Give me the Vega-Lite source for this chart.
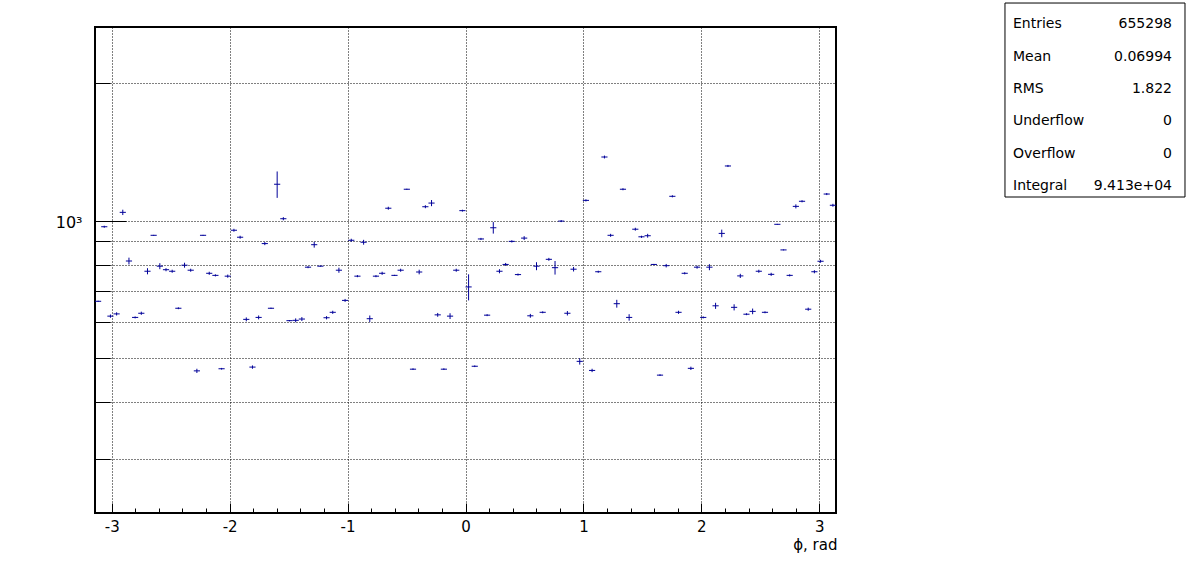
{
  "$schema": "https://vega.github.io/schema/vega-lite/v6.json",
  "width": 741,
  "height": 486,
  "autosize": {"type": "none"},
  "padding": {"left": 95, "top": 27, "right": 360, "bottom": 59},
  "background": "white",
  "config": {
    "view": {"stroke": "black", "strokeWidth": 2},
    "font": "DejaVu Sans",
    "axis": {
      "domain": false,
      "labelFont": "DejaVu Sans",
      "titleFont": "DejaVu Sans",
      "labelColor": "black",
      "titleColor": "black",
      "tickColor": "black",
      "tickWidth": 1,
      "gridColor": "black",
      "gridOpacity": 1,
      "gridWidth": 1,
      "gridDash": [1, 2]
    }
  },
  "data": {
    "values": [
      {"lo": -3.1416, "hi": -3.0892, "phi": -3.1154, "n": 665, "err": 2},
      {"lo": -3.0892, "hi": -3.0369, "phi": -3.0631, "n": 969, "err": 5},
      {"lo": -3.0369, "hi": -2.9845, "phi": -3.0107, "n": 617, "err": 5},
      {"lo": -2.9845, "hi": -2.9322, "phi": -2.9583, "n": 624, "err": 5},
      {"lo": -2.9322, "hi": -2.8798, "phi": -2.906, "n": 1042, "err": 14},
      {"lo": -2.8798, "hi": -2.8274, "phi": -2.8536, "n": 815, "err": 14},
      {"lo": -2.8274, "hi": -2.7751, "phi": -2.8013, "n": 613, "err": 3},
      {"lo": -2.7751, "hi": -2.7227, "phi": -2.7489, "n": 626, "err": 5},
      {"lo": -2.7227, "hi": -2.6704, "phi": -2.6965, "n": 774, "err": 12},
      {"lo": -2.6704, "hi": -2.618, "phi": -2.6442, "n": 928, "err": 2},
      {"lo": -2.618, "hi": -2.5656, "phi": -2.5918, "n": 794, "err": 12},
      {"lo": -2.5656, "hi": -2.5133, "phi": -2.5395, "n": 780, "err": 6},
      {"lo": -2.5133, "hi": -2.4609, "phi": -2.4871, "n": 774, "err": 6},
      {"lo": -2.4609, "hi": -2.4086, "phi": -2.4347, "n": 642, "err": 3},
      {"lo": -2.4086, "hi": -2.3562, "phi": -2.3824, "n": 798, "err": 10},
      {"lo": -2.3562, "hi": -2.3038, "phi": -2.33, "n": 778, "err": 6},
      {"lo": -2.3038, "hi": -2.2515, "phi": -2.2777, "n": 468, "err": 5},
      {"lo": -2.2515, "hi": -2.1991, "phi": -2.2253, "n": 928, "err": 2},
      {"lo": -2.1991, "hi": -2.1468, "phi": -2.1729, "n": 766, "err": 6},
      {"lo": -2.1468, "hi": -2.0944, "phi": -2.1206, "n": 758, "err": 4},
      {"lo": -2.0944, "hi": -2.042, "phi": -2.0682, "n": 473, "err": 2},
      {"lo": -2.042, "hi": -1.9897, "phi": -2.0159, "n": 755, "err": 6},
      {"lo": -1.9897, "hi": -1.9373, "phi": -1.9635, "n": 952, "err": 7},
      {"lo": -1.9373, "hi": -1.885, "phi": -1.9111, "n": 919, "err": 7},
      {"lo": -1.885, "hi": -1.8326, "phi": -1.8588, "n": 607, "err": 6},
      {"lo": -1.8326, "hi": -1.7802, "phi": -1.8064, "n": 477, "err": 4},
      {"lo": -1.7802, "hi": -1.7279, "phi": -1.7541, "n": 613, "err": 6},
      {"lo": -1.7279, "hi": -1.6755, "phi": -1.7017, "n": 890, "err": 7},
      {"lo": -1.6755, "hi": -1.6232, "phi": -1.6493, "n": 642, "err": 2},
      {"lo": -1.6232, "hi": -1.5708, "phi": -1.597, "n": 1201, "err": 80},
      {"lo": -1.5708, "hi": -1.5184, "phi": -1.5446, "n": 1009, "err": 8},
      {"lo": -1.5184, "hi": -1.4661, "phi": -1.4923, "n": 603, "err": 2},
      {"lo": -1.4661, "hi": -1.4137, "phi": -1.4399, "n": 604, "err": 6},
      {"lo": -1.4137, "hi": -1.3614, "phi": -1.3875, "n": 608, "err": 6},
      {"lo": -1.3614, "hi": -1.309, "phi": -1.3352, "n": 790, "err": 4},
      {"lo": -1.309, "hi": -1.2566, "phi": -1.2828, "n": 885, "err": 13},
      {"lo": -1.2566, "hi": -1.2043, "phi": -1.2305, "n": 794, "err": 2},
      {"lo": -1.2043, "hi": -1.1519, "phi": -1.1781, "n": 612, "err": 5},
      {"lo": -1.1519, "hi": -1.0996, "phi": -1.1257, "n": 629, "err": 5},
      {"lo": -1.0996, "hi": -1.0472, "phi": -1.0734, "n": 778, "err": 10},
      {"lo": -1.0472, "hi": -0.9948, "phi": -1.021, "n": 668, "err": 5},
      {"lo": -0.9948, "hi": -0.9425, "phi": -0.9687, "n": 905, "err": 7},
      {"lo": -0.9425, "hi": -0.8901, "phi": -0.9163, "n": 755, "err": 4},
      {"lo": -0.8901, "hi": -0.8378, "phi": -0.8639, "n": 896, "err": 11},
      {"lo": -0.8378, "hi": -0.7854, "phi": -0.8116, "n": 609, "err": 10},
      {"lo": -0.7854, "hi": -0.733, "phi": -0.7592, "n": 755, "err": 4},
      {"lo": -0.733, "hi": -0.6807, "phi": -0.7069, "n": 766, "err": 6},
      {"lo": -0.6807, "hi": -0.6283, "phi": -0.6545, "n": 1064, "err": 8},
      {"lo": -0.6283, "hi": -0.576, "phi": -0.6021, "n": 758, "err": 2},
      {"lo": -0.576, "hi": -0.5236, "phi": -0.5498, "n": 778, "err": 6},
      {"lo": -0.5236, "hi": -0.4712, "phi": -0.4974, "n": 1171, "err": 3},
      {"lo": -0.4712, "hi": -0.4189, "phi": -0.4451, "n": 472, "err": 2},
      {"lo": -0.4189, "hi": -0.3665, "phi": -0.3927, "n": 771, "err": 9},
      {"lo": -0.3665, "hi": -0.3142, "phi": -0.3403, "n": 1072, "err": 8},
      {"lo": -0.3142, "hi": -0.2618, "phi": -0.288, "n": 1092, "err": 17},
      {"lo": -0.2618, "hi": -0.2094, "phi": -0.2356, "n": 621, "err": 6},
      {"lo": -0.2094, "hi": -0.1571, "phi": -0.1833, "n": 472, "err": 2},
      {"lo": -0.1571, "hi": -0.1047, "phi": -0.1309, "n": 617, "err": 9},
      {"lo": -0.1047, "hi": -0.0524, "phi": -0.0785, "n": 778, "err": 6},
      {"lo": -0.0524, "hi": 0, "phi": -0.0262, "n": 1051, "err": 5},
      {"lo": 0, "hi": 0.0524, "phi": 0.0262, "n": 715, "err": 47},
      {"lo": 0.0524, "hi": 0.1047, "phi": 0.0785, "n": 479, "err": 2},
      {"lo": 0.1047, "hi": 0.1571, "phi": 0.1309, "n": 911, "err": 5},
      {"lo": 0.1571, "hi": 0.2094, "phi": 0.1833, "n": 620, "err": 3},
      {"lo": 0.2094, "hi": 0.2618, "phi": 0.2356, "n": 964, "err": 28},
      {"lo": 0.2618, "hi": 0.3142, "phi": 0.288, "n": 774, "err": 8},
      {"lo": 0.3142, "hi": 0.3665, "phi": 0.3403, "n": 801, "err": 6},
      {"lo": 0.3665, "hi": 0.4189, "phi": 0.3927, "n": 900, "err": 5},
      {"lo": 0.4189, "hi": 0.4712, "phi": 0.4451, "n": 761, "err": 4},
      {"lo": 0.4712, "hi": 0.5236, "phi": 0.4974, "n": 915, "err": 9},
      {"lo": 0.5236, "hi": 0.576, "phi": 0.5498, "n": 618, "err": 6},
      {"lo": 0.576, "hi": 0.6283, "phi": 0.6021, "n": 794, "err": 16},
      {"lo": 0.6283, "hi": 0.6807, "phi": 0.6545, "n": 629, "err": 3},
      {"lo": 0.6807, "hi": 0.733, "phi": 0.7069, "n": 822, "err": 6},
      {"lo": 0.733, "hi": 0.7854, "phi": 0.7592, "n": 788, "err": 27},
      {"lo": 0.7854, "hi": 0.8378, "phi": 0.8116, "n": 997, "err": 5},
      {"lo": 0.8378, "hi": 0.8901, "phi": 0.8639, "n": 626, "err": 7},
      {"lo": 0.8901, "hi": 0.9425, "phi": 0.9163, "n": 782, "err": 9},
      {"lo": 0.9425, "hi": 0.9948, "phi": 0.9687, "n": 491, "err": 8},
      {"lo": 0.9948, "hi": 1.0472, "phi": 1.021, "n": 1107, "err": 6},
      {"lo": 1.0472, "hi": 1.0996, "phi": 1.0734, "n": 469, "err": 4},
      {"lo": 1.0996, "hi": 1.1519, "phi": 1.1257, "n": 772, "err": 4},
      {"lo": 1.1519, "hi": 1.2043, "phi": 1.1781, "n": 1378, "err": 10},
      {"lo": 1.2043, "hi": 1.2566, "phi": 1.2305, "n": 928, "err": 7},
      {"lo": 1.2566, "hi": 1.309, "phi": 1.2828, "n": 657, "err": 13},
      {"lo": 1.309, "hi": 1.3614, "phi": 1.3352, "n": 1171, "err": 6},
      {"lo": 1.3614, "hi": 1.4137, "phi": 1.3875, "n": 613, "err": 10},
      {"lo": 1.4137, "hi": 1.4661, "phi": 1.4399, "n": 957, "err": 7},
      {"lo": 1.4661, "hi": 1.5184, "phi": 1.4923, "n": 921, "err": 5},
      {"lo": 1.5184, "hi": 1.5708, "phi": 1.5446, "n": 926, "err": 9},
      {"lo": 1.5708, "hi": 1.6232, "phi": 1.597, "n": 801, "err": 2},
      {"lo": 1.6232, "hi": 1.6755, "phi": 1.6493, "n": 458, "err": 2},
      {"lo": 1.6755, "hi": 1.7279, "phi": 1.7017, "n": 796, "err": 7},
      {"lo": 1.7279, "hi": 1.7802, "phi": 1.7541, "n": 1130, "err": 6},
      {"lo": 1.7802, "hi": 1.8326, "phi": 1.8064, "n": 629, "err": 5},
      {"lo": 1.8326, "hi": 1.885, "phi": 1.8588, "n": 766, "err": 4},
      {"lo": 1.885, "hi": 1.9373, "phi": 1.9111, "n": 474, "err": 4},
      {"lo": 1.9373, "hi": 1.9897, "phi": 1.9635, "n": 790, "err": 6},
      {"lo": 1.9897, "hi": 2.042, "phi": 2.0159, "n": 613, "err": 3},
      {"lo": 2.042, "hi": 2.0944, "phi": 2.0682, "n": 790, "err": 12},
      {"lo": 2.0944, "hi": 2.1468, "phi": 2.1206, "n": 650, "err": 10},
      {"lo": 2.1468, "hi": 2.1991, "phi": 2.1729, "n": 937, "err": 18},
      {"lo": 2.1991, "hi": 2.2515, "phi": 2.2253, "n": 1317, "err": 7},
      {"lo": 2.2515, "hi": 2.3038, "phi": 2.2777, "n": 645, "err": 10},
      {"lo": 2.3038, "hi": 2.3562, "phi": 2.33, "n": 756, "err": 8},
      {"lo": 2.3562, "hi": 2.4086, "phi": 2.3824, "n": 623, "err": 3},
      {"lo": 2.4086, "hi": 2.4609, "phi": 2.4347, "n": 632, "err": 9},
      {"lo": 2.4609, "hi": 2.5133, "phi": 2.4871, "n": 774, "err": 6},
      {"lo": 2.5133, "hi": 2.5656, "phi": 2.5395, "n": 629, "err": 3},
      {"lo": 2.5656, "hi": 2.618, "phi": 2.5918, "n": 762, "err": 6},
      {"lo": 2.618, "hi": 2.6704, "phi": 2.6442, "n": 981, "err": 2},
      {"lo": 2.6704, "hi": 2.7227, "phi": 2.6965, "n": 862, "err": 2},
      {"lo": 2.7227, "hi": 2.7751, "phi": 2.7489, "n": 758, "err": 4},
      {"lo": 2.7751, "hi": 2.8274, "phi": 2.8013, "n": 1074, "err": 11},
      {"lo": 2.8274, "hi": 2.8798, "phi": 2.8536, "n": 1102, "err": 6},
      {"lo": 2.8798, "hi": 2.9322, "phi": 2.906, "n": 639, "err": 5},
      {"lo": 2.9322, "hi": 2.9845, "phi": 2.9583, "n": 772, "err": 6},
      {"lo": 2.9845, "hi": 3.0369, "phi": 3.0107, "n": 814, "err": 6},
      {"lo": 3.0369, "hi": 3.0892, "phi": 3.0631, "n": 1143, "err": 6},
      {"lo": 3.0892, "hi": 3.1416, "phi": 3.1154, "n": 1080, "err": 8}
    ]
  },
  "resolve": {"axis": {"x": "independent", "y": "independent"}},
  "layer": [
    {
      "mark": {"type": "rule", "color": "#000099", "strokeWidth": 1},
      "encoding": {
        "x": {
          "field": "lo",
          "type": "quantitative",
          "scale": {"domain": [-3.14159, 3.14159], "nice": false, "zero": false},
          "axis": {
            "orient": "bottom",
            "values": [-3, -2, -1, 0, 1, 2, 3],
            "ticks": true,
            "tickSize": -10,
            "grid": true,
            "labelExpr": "datum.value < 0 ? '-' + abs(datum.value) : '' + datum.value",
            "labelFontSize": 15,
            "labelPadding": 16,
            "labelFlush": false,
            "labelOverlap": false,
            "title": "ϕ, rad",
            "titleFontSize": 15,
            "titleFontWeight": "normal",
            "titleAlign": "right",
            "titleAnchor": "end",
            "titleBaseline": "alphabetic",
            "titleX": 742,
            "titleY": 36
          }
        },
        "x2": {"field": "hi"},
        "y": {
          "field": "n",
          "type": "quantitative",
          "scale": {"type": "log", "domain": [228.3, 2657], "nice": false},
          "axis": {
            "orient": "left",
            "values": [2000, 1000, 900, 800, 700, 600, 500, 400, 300],
            "ticks": true,
            "tickSize": -15,
            "grid": true,
            "labelExpr": "datum.value == 1000 ? '10³' : ''",
            "labelFontSize": 16,
            "labelPadding": 28,
            "labelOffset": 2,
            "labelOverlap": false,
            "title": null
          }
        }
      }
    },
    {
      "mark": {"type": "errorbar", "color": "#000099", "thickness": 1},
      "encoding": {
        "x": {
          "field": "phi",
          "type": "quantitative",
          "scale": {"domain": [-3.14159, 3.14159], "nice": false, "zero": false},
          "axis": {
            "orient": "bottom",
            "values": [-2.8, -2.6, -2.4, -2.2, -1.8, -1.6, -1.4, -1.2, -0.8, -0.6, -0.4, -0.2, 0.2, 0.4, 0.6, 0.8, 1.2, 1.4, 1.6, 1.8, 2.2, 2.4, 2.6, 2.8],
            "tickSize": -5,
            "labels": false,
            "grid": false,
            "title": null
          }
        },
        "y": {
          "field": "n",
          "type": "quantitative",
          "scale": {"type": "log", "domain": [228.3, 2657], "nice": false},
          "axis": {
            "orient": "left",
            "values": [1000],
            "tickSize": -31,
            "labels": false,
            "grid": false,
            "title": null
          }
        },
        "yError": {"field": "err"}
      }
    },
    {
      "data": {"values": [{}]},
      "mark": {"type": "rect", "fill": "white", "stroke": "black", "strokeWidth": 1},
      "encoding": {
        "x": {"datum": 4.5744, "type": "quantitative", "axis": null},
        "x2": {"datum": 6.1008},
        "y": {"datum": 2999, "type": "quantitative", "axis": null},
        "y2": {"datum": 1126}
      }
    },
    {
      "data": {"values": [{}]},
      "mark": {"type": "text", "align": "left", "baseline": "alphabetic", "fontSize": 14, "lineHeight": 32.3, "font": "DejaVu Sans", "color": "black"},
      "encoding": {
        "x": {"datum": 4.6424, "type": "quantitative", "axis": null},
        "y": {"datum": 2639, "type": "quantitative", "axis": null},
        "text": {"value": ["Entries", "Mean", "RMS", "Underflow", "Overflow", "Integral"]}
      }
    },
    {
      "data": {"values": [{}]},
      "mark": {"type": "text", "align": "right", "baseline": "alphabetic", "fontSize": 14, "lineHeight": 32.3, "font": "DejaVu Sans", "color": "black"},
      "encoding": {
        "x": {"datum": 5.9906, "type": "quantitative", "axis": null},
        "y": {"datum": 2639, "type": "quantitative", "axis": null},
        "text": {"value": ["655298", "0.06994", "1.822", "0", "0", "9.413e+04"]}
      }
    }
  ]
}
